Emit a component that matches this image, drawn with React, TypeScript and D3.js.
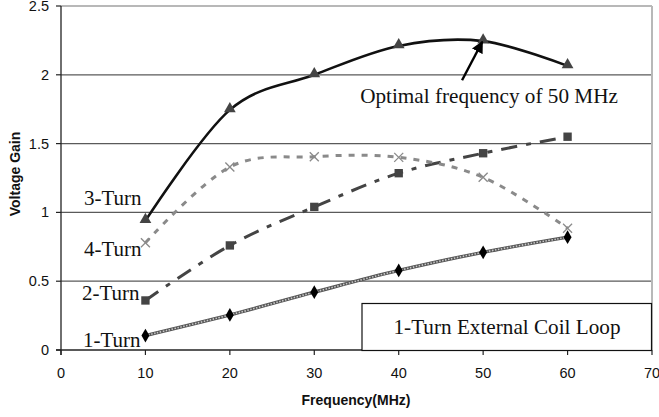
import React from 'react';
import * as d3 from 'd3';

// Frequencies (MHz) and voltage gain per coil
const freqs = [10, 20, 30, 40, 50, 60];
const turn1 = [0.105, 0.255, 0.42, 0.578, 0.71, 0.82];
const turn2 = [0.36, 0.76, 1.04, 1.285, 1.43, 1.55];
const turn3 = [0.94, 1.745, 2.0, 2.21, 2.245, 2.065];
const turn4 = [0.78, 1.33, 1.405, 1.4, 1.255, 0.885];
const xTicks = [0, 10, 20, 30, 40, 50, 60, 70];
const yTicks = [0, 0.5, 1, 1.5, 2, 2.5];

const W = 659;
const H = 417;
const margin = { top: 6, right: 7, bottom: 67, left: 61 };

const App = () => {
  const x = d3.scaleLinear().domain([0, 70]).range([margin.left, W - margin.right]);
  const y = d3.scaleLinear().domain([0, 2.5]).range([H - margin.bottom, margin.top]);

  // smoothed line like the spreadsheet's "smoothed line" option
  const line = d3.line<number>()
    .x((d, i) => x(freqs[i]))
    .y(d => y(d))
    .curve(d3.curveCardinal.tension(0));

  const serif = '"Liberation Serif", "Times New Roman", serif';
  const sans = '"Liberation Sans", Arial, sans-serif';

  const tri = d3.symbol().type(d3.symbolTriangle).size(60)();
  const sq = d3.symbol().type(d3.symbolSquare).size(70)();
  const dia = d3.symbol().type(d3.symbolDiamond).size(55)();

  return (
    <svg width={W} height={H} style={{ position: 'absolute', left: 0, top: 0, background: '#fff' }}>
      {/* gridlines */}
      {yTicks.slice(1).map(t => (
        <line key={t} x1={x(0)} x2={x(70)} y1={y(t)} y2={y(t)}
          stroke={t === 2.5 ? '#a0a0a0' : '#5a5a5a'} strokeWidth={t === 2.5 ? 1.5 : 1.2} />
      ))}
      <line x1={x(70)} x2={x(70)} y1={y(2.5)} y2={y(0)} stroke="#b8b8b8" strokeWidth={2} />

      {/* axes */}
      <line x1={x(0)} x2={x(0)} y1={y(0) + 5} y2={y(2.5)} stroke="#222" strokeWidth={1.3} />
      <line x1={x(0) - 5} x2={x(70)} y1={y(0)} y2={y(0)} stroke="#222" strokeWidth={1.3} />
      {yTicks.map(t => (
        <g key={t}>
          <line x1={x(0) - 5} x2={x(0)} y1={y(t)} y2={y(t)} stroke="#222" strokeWidth={1.2} />
          <text x={x(0) - 12} y={y(t)} dy="0.35em" textAnchor="end" fontFamily={sans} fontSize={14.5} fill="#111">{t}</text>
        </g>
      ))}
      {xTicks.map(t => (
        <g key={t}>
          <line x1={x(t)} x2={x(t)} y1={y(0)} y2={y(0) + 5} stroke="#222" strokeWidth={1.2} />
          <text x={x(t)} y={y(0) + 28} textAnchor="middle" fontFamily={sans} fontSize={14.5} fill="#111">{t}</text>
        </g>
      ))}
      <text x={356} y={405} textAnchor="middle" fontFamily={sans} fontSize={14} fontWeight="bold" fill="#111">Frequency(MHz)</text>
      <text transform={`translate(20,${174}) rotate(-90)`} textAnchor="middle" fontFamily={sans} fontSize={14} fontWeight="bold" fill="#111">Voltage Gain</text>

      {/* 1-Turn: thick textured grey line */}
      <path d={line(turn1) || ''} fill="none" stroke="#555" strokeWidth={3.4} />
      <path d={line(turn1) || ''} fill="none" stroke="#c8c8c8" strokeWidth={1.6} strokeDasharray="1.5 1.5" />
      {turn1.map((v, i) => (
        <path key={i} d={dia || ''} transform={`translate(${x(freqs[i])},${y(v)})`} fill="#000" />
      ))}

      {/* 2-Turn: dash-dot */}
      <path d={line(turn2) || ''} fill="none" stroke="#444" strokeWidth={3} strokeDasharray="16 9 5 9" />
      {turn2.map((v, i) => (
        <path key={i} d={sq || ''} transform={`translate(${x(freqs[i])},${y(v)})`} fill="#444" />
      ))}

      {/* 4-Turn: short dashes */}
      <path d={line(turn4) || ''} fill="none" stroke="#8a8a8a" strokeWidth={3} strokeDasharray="6 7" />
      {turn4.map((v, i) => (
        <g key={i} transform={`translate(${x(freqs[i])},${y(v)})`} stroke="#8a8a8a" strokeWidth={1.3}>
          <line x1={-4.5} y1={-4.5} x2={4.5} y2={4.5} />
          <line x1={-4.5} y1={4.5} x2={4.5} y2={-4.5} />
        </g>
      ))}

      {/* 3-Turn: solid black */}
      <path d={line(turn3) || ''} fill="none" stroke="#111" strokeWidth={2.6} />
      {turn3.map((v, i) => (
        <path key={i} d={tri || ''} transform={`translate(${x(freqs[i])},${y(v) - 1})`} fill="#444" />
      ))}

      {/* series labels */}
      <text x={84} y={205} fontFamily={serif} fontSize={21} fill="#111">3-Turn</text>
      <text x={84} y={256} fontFamily={serif} fontSize={21} fill="#111">4-Turn</text>
      <text x={82} y={300} fontFamily={serif} fontSize={21} fill="#111">2-Turn</text>
      <text x={83} y={347} fontFamily={serif} fontSize={21} fill="#111">1-Turn</text>

      {/* annotation arrow */}
      <defs>
        <marker id="ah" viewBox="0 0 10 10" refX="9" refY="5" markerWidth="5" markerHeight="5" orient="auto">
          <path d="M0,0 L10,5 L0,10 z" fill="#000" />
        </marker>
      </defs>
      <line x1={x(47.5)} y1={y(1.96)} x2={x(49.9)} y2={y(2.24)} stroke="#000" strokeWidth={2.4} markerEnd="url(#ah)" />
      <text x={489} y={103} textAnchor="middle" fontFamily={serif} fontSize={21.2} fill="#111">Optimal frequency of 50 MHz</text>

      {/* caption box */}
      <rect x={362} y={303.5} width={289.5} height={47} fill="#fff" stroke="#111" strokeWidth={1.2} />
      <text x={507} y={334} textAnchor="middle" fontFamily={serif} fontSize={21.2} fill="#111">1-Turn External Coil Loop</text>
    </svg>
  );
};

export default App;
